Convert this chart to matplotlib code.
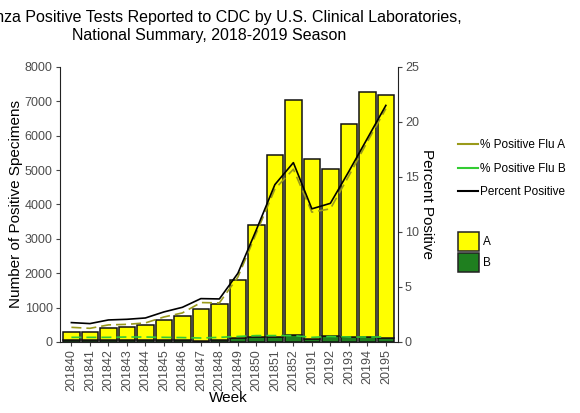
import numpy as np
import matplotlib.pyplot as plt
from matplotlib.patches import Patch
from matplotlib.lines import Line2D

plt.rcParams['font.family'] = ['Liberation Sans', 'DejaVu Sans']

weeks = ['201840', '201841', '201842', '201843', '201844', '201845', '201846',
         '201847', '201848', '201849', '201850', '201851', '201852', '20191',
         '20192', '20193', '20194', '20195']
total = [281, 291, 407, 436, 485, 630, 766, 960, 1096, 1804, 3414, 5441,
         7042, 5335, 5024, 6334, 7274, 7187]
flu_b = [70, 70, 65, 60, 65, 60, 55, 40, 55, 110, 150, 140, 190, 100, 170,
         140, 130, 110]
flu_a = [t - b for t, b in zip(total, flu_b)]
pct_total = [1.76, 1.67, 2.0, 2.06, 2.18, 2.73, 3.15, 3.94, 3.91, 6.24, 10.2,
             14.3, 16.3, 12.1, 12.6, 15.5, 18.5, 21.5]
pct_a = [1.33, 1.24, 1.55, 1.6, 1.73, 2.27, 2.64, 3.58, 3.55, 5.9, 9.9, 13.9,
         15.7, 11.8, 12.1, 15.1, 18.2, 21.2]
pct_b = [0.42, 0.42, 0.42, 0.45, 0.45, 0.42, 0.4, 0.36, 0.42, 0.5, 0.58,
         0.58, 0.58, 0.42, 0.5, 0.45, 0.45, 0.45]

yellow = '#ffff00'
green = '#1f7f1f'
olive = '#9a9a1a'
lgreen = '#33cc33'
tick_col = '#4d4d4d'

fig = plt.figure(figsize=(5.8, 4.13), dpi=100)
ax = fig.add_axes([0.103, 0.172, 0.583, 0.666])
x = np.arange(len(weeks))

ax.bar(x, flu_b, width=0.9, color=green, edgecolor='#111111', linewidth=1.1)
ax.bar(x, flu_a, bottom=flu_b, width=0.9, color=yellow, edgecolor='#111111',
       linewidth=1.1)
ax.set_ylim(0, 8000)
ax.set_yticks(range(0, 8001, 1000))
ax.set_xlim(-0.63, len(weeks) - 0.35)
ax.set_xticks(x)
ax.set_xticklabels(weeks, rotation=90)
ax.set_xlabel('Week', fontsize=11, labelpad=0)
ax.set_ylabel('Number of Positive Specimens', fontsize=11, labelpad=1)

ax2 = ax.twinx()
ax2.plot(x, pct_a, color=olive, linestyle=(0, (6, 3)), linewidth=1.2)
ax2.plot(x, pct_b, color=lgreen, linestyle=(0, (6, 3)), linewidth=1.2)
ax2.plot(x, pct_total, color='black', linewidth=1.2)
ax2.set_ylim(0, 25)
ax2.set_yticks(range(0, 26, 5))
ax2.set_ylabel('Percent Positive', fontsize=11, rotation=270)
ax2.yaxis.set_label_coords(1.085, 0.5)
ax2.yaxis.label.set_va('center')

for a in (ax, ax2):
    a.spines['top'].set_visible(False)
    for s in ('left', 'right', 'bottom'):
        a.spines[s].set_color('#222222')
    a.tick_params(labelsize=9, labelcolor=tick_col, length=3, pad=2,
                  color='#444444')
ax.spines['right'].set_visible(False)
ax2.spines['left'].set_visible(False)
ax2.spines['bottom'].set_visible(False)

fig.text(0.36, 0.975, 'Influenza Positive Tests Reported to CDC by U.S. Clinical Laboratories,\n'
         'National Summary, 2018-2019 Season', ha='center', va='top',
         fontsize=11.5, linespacing=1.25)

line_handles = [Line2D([], [], color=olive, linewidth=1.5),
                Line2D([], [], color=lgreen, linewidth=1.5),
                Line2D([], [], color='black', linewidth=1.5)]
leg1 = fig.legend(line_handles, ['% Positive Flu A', '% Positive Flu B', 'Percent Positive'],
                  loc='upper left', bbox_to_anchor=(0.786, 0.668), frameon=False,
                  fontsize=8.5, handlelength=1.7, handletextpad=0.17,
                  labelspacing=0.95, borderaxespad=0, borderpad=0.2)
patch_handles = [Patch(facecolor=yellow, edgecolor='#222222', linewidth=1.1),
                 Patch(facecolor=green, edgecolor='#222222', linewidth=1.1)]
leg2 = fig.legend(patch_handles, ['A', 'B'], loc='upper left',
                  bbox_to_anchor=(0.786, 0.445), frameon=False, fontsize=8.5,
                  handlelength=1.78, handleheight=2.1, handletextpad=0.35,
                  labelspacing=0.2, borderaxespad=0, borderpad=0.2)

fig.savefig('out.png', dpi=100)
